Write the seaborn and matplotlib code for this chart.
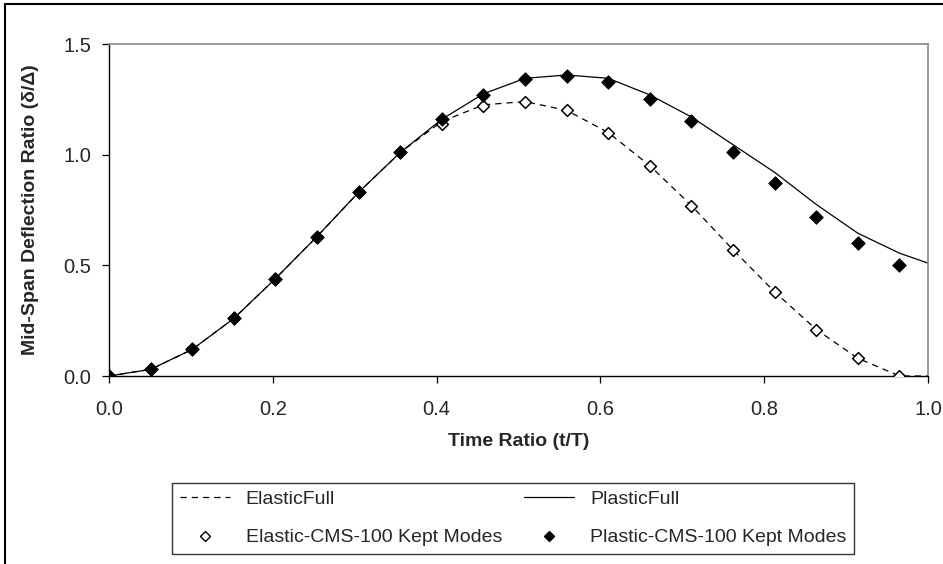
import matplotlib
matplotlib.use("Agg")
import matplotlib.pyplot as plt
import seaborn as sns
import numpy as np
import pandas as pd
from matplotlib.lines import Line2D
from matplotlib import font_manager

# ---- data ----
t_cms = [0.0, 0.0508, 0.1016, 0.1524, 0.2032, 0.254, 0.3048, 0.3556, 0.4064, 0.4572,
         0.508, 0.5588, 0.6096, 0.6604, 0.7112, 0.762, 0.8128, 0.8636, 0.9144, 0.9652]
plastic_cms = [0.0, 0.03, 0.12, 0.26, 0.44, 0.63, 0.83, 1.01, 1.16, 1.27,
               1.34, 1.355, 1.33, 1.25, 1.15, 1.01, 0.87, 0.72, 0.60, 0.50]
elastic_cms = [0.0, 0.03, 0.12, 0.26, 0.44, 0.63, 0.83, 1.01, 1.14, 1.22,
               1.24, 1.20, 1.10, 0.95, 0.77, 0.57, 0.38, 0.21, 0.08, 0.0]

t_full = t_cms + [1.0]
plastic_full = [0.0, 0.03, 0.12, 0.26, 0.44, 0.63, 0.83, 1.01, 1.16, 1.275,
                1.345, 1.36, 1.345, 1.27, 1.17, 1.045, 0.92, 0.775, 0.645, 0.555, 0.51]
elastic_full = [0.0, 0.03, 0.12, 0.26, 0.44, 0.63, 0.83, 1.01, 1.15, 1.225,
                1.24, 1.20, 1.10, 0.95, 0.77, 0.57, 0.38, 0.21, 0.08, 0.0, 0.0]

labels = ["ElasticFull", "Elastic-CMS-100 Kept Modes", "PlasticFull", "Plastic-CMS-100 Kept Modes"]
x_ticks = [0.0, 0.2, 0.4, 0.6, 0.8, 1.0]
y_ticks = [0.0, 0.5, 1.0, 1.5]

sns.set_style("white")
plt.rcParams['font.family'] = ['Liberation Sans', 'DejaVu Sans']

# narrow face for labels/legend if available
try:
    font_manager.findfont(font_manager.FontProperties(family="Liberation Sans Narrow"),
                          fallback_to_default=False)
    narrow = ["Liberation Sans Narrow", "DejaVu Sans"]
    lab_size, leg_size = 17, 16.5
except Exception:
    narrow = ["Liberation Sans", "DejaVu Sans"]
    lab_size, leg_size = 14, 14

W, H = 943, 564
fig = plt.figure(figsize=(W / 100, H / 100), dpi=100)
ax = fig.add_axes([109 / W, 1 - 376 / H, (928 - 109) / W, (376 - 44) / H])

df_full = pd.DataFrame({"t": t_full, "plastic": plastic_full, "elastic": elastic_full})
df_cms = pd.DataFrame({"t": t_cms, "plastic": plastic_cms, "elastic": elastic_cms})

sns.lineplot(data=df_full, x="t", y="elastic", ax=ax, color="black", lw=0.9,
             linestyle=(0, (5, 4)), sort=False, zorder=2)
sns.lineplot(data=df_full, x="t", y="plastic", ax=ax, color="black", lw=0.9,
             sort=False, zorder=2)
sns.scatterplot(data=df_cms, x="t", y="elastic", ax=ax, marker="D", s=36,
                facecolor="white", edgecolor="black", linewidth=1.1, zorder=3)
sns.scatterplot(data=df_cms, x="t", y="plastic", ax=ax, marker="D", s=48,
                color="black", edgecolor="black", linewidth=0.6, zorder=4)

ax.set_xlim(0, 1.0)
ax.set_ylim(0, 1.5)
ax.set_xticks(x_ticks)
ax.set_yticks(y_ticks)
ax.set_xticklabels([f"{v:.1f}" for v in x_ticks])
ax.set_yticklabels([f"{v:.1f}" for v in y_ticks])
ax.tick_params(axis="both", direction="out", length=5, width=0.9, color="black",
               labelsize=14.5, left=True, bottom=True)
ax.tick_params(axis="x", pad=12)
ax.tick_params(axis="y", pad=8)
ax.set_xlabel("Time Ratio (t/T)", fontsize=lab_size, fontweight="bold", family=narrow)
ax.set_ylabel("Mid-Span Deflection Ratio (δ/Δ)", fontsize=lab_size, fontweight="bold",
              family=narrow)
ax.xaxis.set_label_coords(0.5, (376 - 442) / 332)
ax.xaxis.label.set_va("center")
ax.yaxis.set_label_coords((31 - 109) / 819, 0.5)
ax.yaxis.label.set_va("center")

for side in ["left", "bottom"]:
    ax.spines[side].set_color("black")
    ax.spines[side].set_linewidth(1.0)
for side in ["top", "right"]:
    ax.spines[side].set_color("#888888")
    ax.spines[side].set_linewidth(1.2)
ax.grid(False)

handles = [
    Line2D([], [], color="black", lw=0.9, linestyle=(0, (5, 4))),
    Line2D([], [], color="black", lw=0, marker="D", markersize=5,
           markerfacecolor="white", markeredgecolor="black", markeredgewidth=1.0),
    Line2D([], [], color="black", lw=0.9),
    Line2D([], [], color="black", lw=0, marker="D", markersize=5.5,
           markerfacecolor="black", markeredgecolor="black"),
]
fs_px = leg_size * 100 / 72
leg = fig.legend(handles, labels, ncol=2, loc="center",
                 bbox_to_anchor=((164 + 862) / 2 / W, 1 - (485 + 552) / 2 / H),
                 prop={"family": narrow, "size": leg_size},
                 frameon=True, fancybox=False, edgecolor="black",
                 handlelength=50 / fs_px, handletextpad=16 / fs_px,
                 columnspacing=22 / fs_px,
                 labelspacing=(40 - fs_px) / fs_px, borderpad=0.4, borderaxespad=0)
leg.get_frame().set_linewidth(1.0)

# outer figure frame (top and left visible)
fig.add_artist(Line2D([5 / W, 1.0], [1 - 4 / H, 1 - 4 / H], transform=fig.transFigure,
                      color="black", lw=1.5))
fig.add_artist(Line2D([5 / W, 5 / W], [0.0, 1 - 4 / H], transform=fig.transFigure,
                      color="black", lw=1.5))

fig.savefig("out.png", dpi=100)
